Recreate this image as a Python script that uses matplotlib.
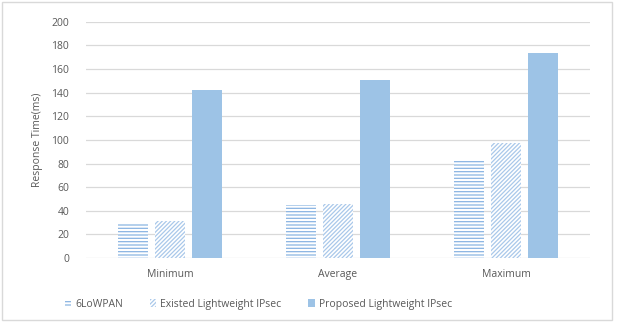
import numpy as np
import matplotlib.pyplot as plt
from matplotlib.patches import Rectangle

categories = ['Minimum', 'Average', 'Maximum']
lowpan = [30, 45, 82]
existed = [31, 46, 97]
proposed = [142, 151, 174]
series_names = ['6LoWPAN', 'Existed Lightweight IPsec', 'Proposed Lightweight IPsec']

plt.rcParams['font.family'] = 'Open Sans'
plt.rcParams['hatch.linewidth'] = 0.9
txt = '#595959'

fig = plt.figure(figsize=(6.18, 3.22), dpi=100)
ax = fig.add_axes([0.139, 0.199, 0.816, 0.733])

x = np.arange(len(categories))
w = 0.175
off = 0.22
ax.bar(x - off, lowpan, w, color='white', edgecolor='#8ab4e2', hatch='-----', linewidth=0, zorder=2, label=series_names[0])
ax.bar(x, existed, w, color='white', edgecolor='#a9c8ea', hatch='////////', linewidth=0, zorder=2, label=series_names[1])
ax.bar(x + off, proposed, w, color='#9dc3e6', linewidth=0, zorder=2, label=series_names[2])

ax.set_xlim(-0.5, 2.5)
ax.set_ylim(0, 200)
ax.set_yticks(np.arange(0, 201, 20))
ax.set_xticks(x)
ax.set_xticklabels(categories)
ax.grid(axis='y', color='#d9d9d9', linewidth=0.9, zorder=0)
ax.set_axisbelow(True)
for s in ax.spines.values():
    s.set_visible(False)
ax.tick_params(length=0, colors=txt, labelsize=7.5)
ax.tick_params(axis='y', pad=12)
ax.tick_params(axis='x', pad=8)
ax.set_ylabel('Response Time(ms)', color=txt, fontsize=7.5, labelpad=6)

leg = fig.legend(loc='center', bbox_to_anchor=(0.418, 0.055), ncol=3, frameon=False,
                 fontsize=7.5, handlelength=0.6, handleheight=0.8, columnspacing=2.6,
                 handletextpad=0.4)
for t in leg.get_texts():
    t.set_color(txt)

fig.patches.append(Rectangle((0.004, 0.006), 0.986, 0.988, transform=fig.transFigure,
                             fill=False, edgecolor='#d9d9d9', linewidth=1))

fig.savefig('out.png', dpi=100)
